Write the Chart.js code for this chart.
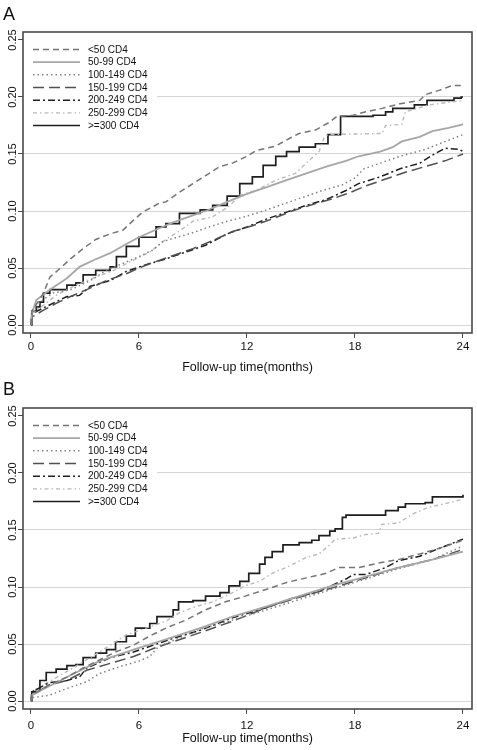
<!DOCTYPE html>
<html>
<head>
<meta charset="utf-8">
<script src="https://cdn.jsdelivr.net/npm/chart.js@4.4.1/dist/chart.umd.min.js"></script>
<style>
html,body{margin:0;padding:0;background:#fff;}
#wrap{position:relative;width:477px;height:750px;overflow:hidden;}
.panel{position:absolute;left:0;width:477px;height:375px;}
.lab{position:absolute;left:3px;font-family:'Liberation Sans',Arial,sans-serif;font-size:18px;line-height:18px;color:#111;}
</style>
</head>
<body>
<div id="wrap">
  <div class="panel" style="top:0"><canvas id="cA" width="477" height="375"></canvas></div>
  <div class="panel" style="top:375px"><canvas id="cB" width="477" height="375"></canvas></div>
  <div class="lab" style="top:5px">A</div>
  <div class="lab" style="top:380px">B</div>
</div>
<script>
// ---------- data ----------
const seriesLabels = ['<50 CD4','50-99 CD4','100-149 CD4','150-199 CD4','200-249 CD4','250-299 CD4','>=300 CD4'];
const xTicks = [0, 6, 12, 18, 24];
const yTicks = [0, 0.05, 0.10, 0.15, 0.20, 0.25];
const xTitle = 'Follow-up time(months)';

// Panel A: [month, cumulative incidence]
const A_lt50 = [[0,0],[0.05,0.012],[0.3,0.018],[0.7,0.028],[1.05,0.042],[1.5,0.048],[2.2,0.058],[2.9,0.067],[3.6,0.075],[4.4,0.080],[5.1,0.083],[5.7,0.092],[6.2,0.099],[7.15,0.107],[7.5,0.108],[8.3,0.117],[9.0,0.124],[9.7,0.131],[10.5,0.139],[11.2,0.142],[12.0,0.148],[12.5,0.153],[13.6,0.157],[14.4,0.164],[14.9,0.168],[15.8,0.171],[16.6,0.178],[17.0,0.183],[17.9,0.184],[18.6,0.187],[19.5,0.190],[20.5,0.194],[21.6,0.197],[21.9,0.202],[22.7,0.206],[23.4,0.210],[24,0.210]];
const A_50_99 = [[0,0],[0.05,0.010],[0.3,0.022],[1.05,0.031],[2.0,0.041],[2.7,0.051],[3.5,0.057],[4.4,0.063],[5.3,0.071],[6.0,0.077],[7.0,0.084],[7.9,0.090],[8.8,0.095],[9.7,0.100],[10.9,0.108],[12.0,0.115],[13.1,0.121],[14.2,0.127],[15.3,0.133],[16.4,0.139],[17.5,0.144],[18.2,0.148],[19.4,0.152],[20.1,0.156],[20.6,0.161],[21.6,0.165],[22.3,0.170],[23.2,0.173],[24,0.176]];
const A_100_149 = [[0,0],[0.05,0.005],[0.5,0.020],[1.2,0.028],[2.2,0.031],[3.3,0.039],[4.2,0.048],[5.1,0.054],[6.0,0.060],[6.8,0.066],[7.3,0.073],[7.9,0.076],[8.8,0.080],[9.7,0.085],[10.9,0.091],[11.9,0.095],[12.9,0.100],[14.0,0.106],[15.1,0.112],[16.2,0.118],[17.3,0.123],[18.0,0.129],[18.5,0.137],[19.4,0.142],[20.5,0.148],[21.2,0.151],[21.9,0.154],[22.7,0.159],[24,0.167]];
const A_150_199 = [[0,0],[0.05,0.007],[0.7,0.013],[1.4,0.019],[2.2,0.025],[3.1,0.031],[4.2,0.039],[5.3,0.045],[6.0,0.050],[7.0,0.056],[7.9,0.061],[9.0,0.067],[10.1,0.074],[11.2,0.082],[12.3,0.087],[13.4,0.093],[14.5,0.100],[15.7,0.106],[16.8,0.111],[17.7,0.116],[18.6,0.122],[19.7,0.128],[20.8,0.134],[21.9,0.139],[23.0,0.144],[24,0.150]];
const A_200_249 = [[0,0],[0.05,0.010],[0.7,0.015],[2.0,0.025],[2.7,0.026],[3.3,0.034],[4.4,0.039],[5.3,0.047],[6.4,0.053],[7.5,0.058],[8.6,0.064],[9.7,0.070],[10.9,0.080],[12.0,0.086],[13.1,0.093],[14.2,0.099],[15.3,0.105],[16.4,0.110],[17.5,0.118],[18.2,0.124],[19.4,0.130],[20.5,0.137],[21.6,0.142],[22.3,0.149],[23.0,0.155],[23.8,0.154],[24,0.152]];
const A_250_299 = [[0,0],[0.05,0.010],[0.5,0.015],[1.4,0.026],[2.5,0.035],[3.6,0.042],[4.6,0.048],[5.7,0.057],[6.6,0.064],[7.5,0.075],[8.3,0.083],[9.0,0.091],[10.1,0.095],[11.0,0.104],[11.6,0.114],[12.5,0.118],[13.6,0.127],[14.7,0.133],[15.5,0.145],[16.0,0.152],[16.3,0.165],[16.5,0.167],[19.5,0.168],[19.7,0.175],[20.6,0.176],[20.8,0.187],[22.1,0.193],[24,0.197]];
const A_ge300 = [[0,0],[0.05,0.012],[0.3,0.016],[0.5,0.020],[0.7,0.028],[1.05,0.031],[2.0,0.035],[2.5,0.037],[2.9,0.044],[3.6,0.048],[4.4,0.051],[4.75,0.060],[5.3,0.069],[6.0,0.077],[6.95,0.086],[7.5,0.089],[8.25,0.098],[9.4,0.101],[10.1,0.105],[10.9,0.113],[11.6,0.124],[12.3,0.130],[12.9,0.140],[13.6,0.148],[14.2,0.152],[14.9,0.156],[15.8,0.159],[16.5,0.167],[17.2,0.183],[19.0,0.184],[19.7,0.187],[20.1,0.190],[21.3,0.193],[22.0,0.197],[23.5,0.199],[23.9,0.200],[24,0.200]];

// Panel B
const B_lt50 = [[0,0],[0.05,0.005],[1.0,0.014],[2.0,0.021],[2.9,0.029],[3.8,0.036],[4.7,0.043],[5.7,0.049],[6.6,0.057],[7.5,0.064],[8.6,0.071],[9.7,0.080],[10.8,0.087],[11.9,0.092],[13.1,0.098],[14.2,0.104],[15.3,0.108],[16.4,0.112],[17.1,0.117],[18.2,0.117],[19.3,0.121],[20.4,0.124],[21.6,0.129],[22.7,0.134],[24,0.141]];
const B_50_99 = [[0,0],[0.05,0.005],[2.0,0.021],[3.8,0.035],[5.7,0.045],[7.5,0.054],[9.4,0.064],[11.2,0.074],[13.1,0.083],[14.9,0.092],[16.7,0.101],[18.6,0.109],[20.4,0.117],[22.3,0.124],[24,0.131]];
const B_100_149 = [[0,0],[0.05,0.003],[1.0,0.005],[2.0,0.011],[3.1,0.017],[3.8,0.024],[4.9,0.030],[6.0,0.035],[6.6,0.039],[7.1,0.048],[8.2,0.055],[9.4,0.063],[11.2,0.071],[13.1,0.080],[14.9,0.089],[16.7,0.098],[18.6,0.107],[20.4,0.116],[22.3,0.124],[24,0.136]];
const B_150_199 = [[0,0],[0.05,0.005],[1.0,0.014],[2.0,0.018],[3.1,0.027],[4.4,0.033],[5.7,0.039],[6.8,0.046],[7.9,0.052],[9.4,0.060],[11.2,0.070],[13.1,0.082],[14.9,0.091],[16.7,0.099],[18.6,0.108],[20.4,0.117],[22.3,0.124],[24,0.133]];
const B_200_249 = [[0,0],[0.05,0.008],[1.0,0.016],[2.0,0.018],[2.7,0.021],[3.1,0.029],[4.4,0.038],[5.7,0.043],[6.8,0.049],[7.9,0.055],[9.4,0.062],[11.2,0.073],[13.1,0.082],[14.5,0.090],[16.0,0.096],[17.5,0.107],[17.9,0.111],[18.6,0.111],[19.7,0.117],[20.4,0.123],[21.6,0.127],[22.7,0.134],[24,0.142]];
const B_250_299 = [[0,0],[0.05,0.005],[0.7,0.014],[2.0,0.026],[3.4,0.039],[4.4,0.049],[5.3,0.058],[6.4,0.064],[7.5,0.070],[8.2,0.077],[9.0,0.082],[10.1,0.087],[11.2,0.095],[11.9,0.101],[12.7,0.105],[13.4,0.112],[14.3,0.118],[15.3,0.126],[16.0,0.129],[16.6,0.137],[16.9,0.142],[17.9,0.143],[18.6,0.146],[19.3,0.147],[19.5,0.155],[20.4,0.156],[21.2,0.164],[22.1,0.170],[23.0,0.173],[24,0.177]];
const B_ge300 = [[0,0],[0.05,0.008],[0.3,0.010],[0.5,0.018],[0.85,0.025],[1.4,0.028],[2.0,0.031],[2.5,0.032],[2.9,0.038],[3.6,0.042],[4.2,0.045],[4.7,0.052],[5.3,0.057],[5.8,0.064],[6.6,0.068],[7.0,0.074],[7.9,0.080],[8.2,0.087],[9.0,0.088],[9.7,0.092],[10.5,0.095],[11.0,0.101],[11.6,0.105],[12.1,0.112],[12.7,0.120],[13.0,0.126],[13.4,0.131],[14.0,0.137],[14.9,0.139],[15.6,0.141],[16.0,0.145],[16.6,0.149],[16.9,0.151],[17.3,0.161],[17.5,0.163],[19.0,0.163],[19.7,0.167],[20.4,0.170],[20.8,0.173],[21.9,0.174],[22.3,0.179],[23.8,0.179],[24,0.181]];

// ---------- styles ----------
const FONT = "'Liberation Sans', Arial, Helvetica, sans-serif";
const styles = [
  {color:'#747474', dash:[6,4], width:1.5, stepped:false},
  {color:'#a6a6a6', dash:[], width:1.8, stepped:false},
  {color:'#808080', dash:[1.5,3], width:1.5, stepped:false},
  {color:'#505050', dash:[11,5], width:1.5, stepped:false},
  {color:'#1e1e1e', dash:[7,3,2,3], width:1.5, stepped:false},
  {color:'#bababa', dash:[4,3,1.5,3], width:1.4, stepped:false},
  {color:'#1e1e1e', dash:[], width:1.7, stepped:true}
];

const panelPlugin = {
  id: 'panelDecor',
  afterDatasetsDraw(chart) {
    const ctx = chart.ctx, ca = chart.chartArea;
    const L = ca.left, T = ca.top;
    ctx.save();
    // legend box inside the plot
    ctx.fillStyle = '#ffffff';
    ctx.fillRect(L + 1, T + 1, 133, 103);
    chart.data.datasets.forEach((ds, i) => {
      const y = T + 17.5 + i * 12.67;
      ctx.beginPath();
      ctx.setLineDash(ds.borderDash || []);
      ctx.strokeStyle = ds.borderColor;
      ctx.lineWidth = ds.borderWidth;
      ctx.moveTo(L + 10, y);
      ctx.lineTo(L + 57, y);
      ctx.stroke();
      ctx.setLineDash([]);
      ctx.fillStyle = '#111';
      ctx.font = '10px ' + FONT;
      ctx.textBaseline = 'middle';
      ctx.textAlign = 'left';
      ctx.fillText(ds.label, L + 65, y + 0.5);
    });
    // frame
    ctx.setLineDash([]);
    ctx.strokeStyle = '#4a4a4a';
    ctx.lineWidth = 1.6;
    ctx.strokeRect(L, T, ca.right - L, ca.bottom - T);
    // rotated y tick labels
    const ys = chart.scales.y;
    ctx.fillStyle = '#111';
    ctx.font = '11px ' + FONT;
    ctx.textAlign = 'center';
    ctx.textBaseline = 'alphabetic';
    yTicks.forEach(v => {
      const py = ys.getPixelForValue(v);
      ctx.save();
      ctx.translate(16, py);
      ctx.rotate(-Math.PI / 2);
      ctx.fillText(v.toFixed(2), 0, 0);
      ctx.restore();
    });
    ctx.restore();
  }
};

function makePanel(id, series, opt) {
  const datasets = series.map((s, i) => ({
    label: seriesLabels[i],
    data: s.map(p => ({x: p[0], y: p[1]})),
    borderColor: styles[i].color,
    borderDash: styles[i].dash,
    borderWidth: styles[i].width,
    stepped: styles[i].stepped,
    pointRadius: 0,
    fill: false,
    tension: 0
  }));
  return new Chart(document.getElementById(id), {
    type: 'line',
    data: {datasets},
    plugins: [panelPlugin],
    options: {
      responsive: false,
      animation: false,
      events: [],
      layout: {padding: {left: 0, right: 5, top: opt.top, bottom: 0}},
      plugins: {legend: {display: false}, tooltip: {enabled: false}},
      scales: {
        x: {
          type: 'linear',
          min: -0.44, max: 24.5,
          afterBuildTicks: s => { s.ticks = xTicks.map(v => ({value: v})); },
          afterFit: s => { s.height = opt.xh; },
          ticks: {color: '#111', font: {family: FONT, size: 11.5}, padding: opt.tickPad, maxRotation: 0, autoSkip: false},
          grid: {drawOnChartArea: false, drawTicks: true, tickLength: 5, tickColor: '#4a4a4a', lineWidth: 1},
          border: {display: false},
          title: {display: true, text: xTitle, color: '#111', font: {family: FONT, size: 12.5}, padding: {top: 0, bottom: opt.titlePad}}
        },
        y: {
          type: 'linear',
          min: -0.007, max: 0.257,
          afterBuildTicks: s => { s.ticks = yTicks.map(v => ({value: v})); },
          afterFit: s => { s.width = 23; },
          ticks: {display: false},
          grid: {
            color: c => (c.tick && c.tick.value > 0.24) ? 'rgba(0,0,0,0)' : '#d6d6d6',
            tickColor: '#4a4a4a', tickLength: 5, lineWidth: 1, drawTicks: true
          },
          border: {display: false}
        }
      }
    }
  });
}

makePanel('cA', [A_lt50, A_50_99, A_100_149, A_150_199, A_200_249, A_250_299, A_ge300], {top: 32, xh: 42, tickPad: 2, titlePad: 0});
makePanel('cB', [B_lt50, B_50_99, B_100_149, B_150_199, B_200_249, B_250_299, B_ge300], {top: 33, xh: 41, tickPad: 5, titlePad: 4});
</script>
</body>
</html>
